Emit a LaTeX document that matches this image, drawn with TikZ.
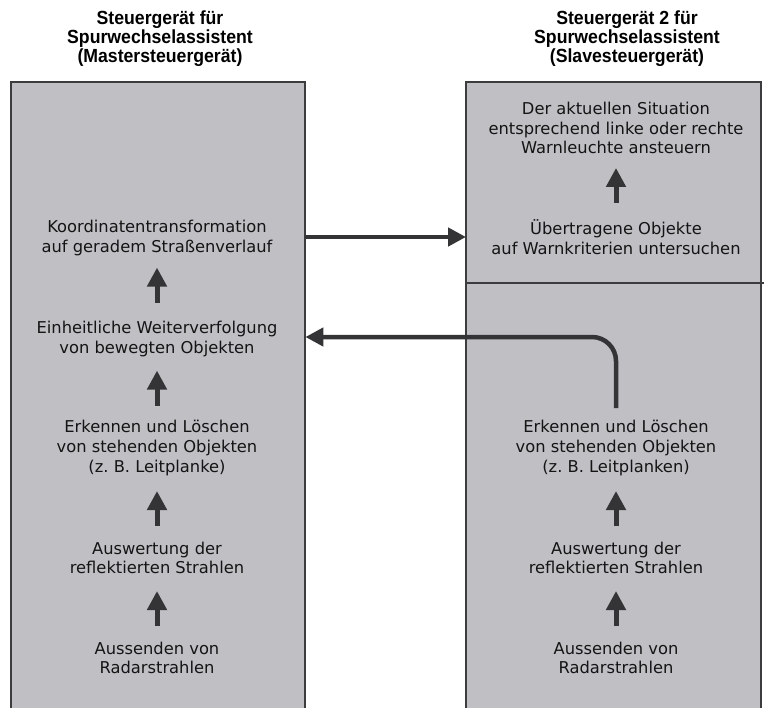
\documentclass[tikz,border=0pt]{standalone}
\usepackage{fontspec}
\setmainfont{DejaVu Sans}
\newfontfamily\headfont[FakeStretch=0.93]{Liberation Sans}
\usetikzlibrary{arrows.meta,calc}
\definecolor{boxfill}{RGB}{192,191,196}
\definecolor{edgecol}{RGB}{60,60,62}
\definecolor{arrcol}{RGB}{52,52,54}
\definecolor{txtcol}{RGB}{20,20,20}
\frenchspacing
\begin{document}
\begin{tikzpicture}[x=1pt,y=-1pt,
  bodytext/.style={align=center, inner sep=0pt, text=txtcol, font=\fontsize{16.3}{19.8}\selectfont},
  headtext/.style={align=center, inner sep=0pt, text=black, font=\headfont\bfseries\fontsize{19}{19}\selectfont},
  panel/.style={fill=boxfill, draw=none, anchor=north west, inner sep=0pt, minimum height=626pt},
  edgeline/.style={draw=edgecol, line width=2pt, line join=miter},
  bigarrow/.style={draw=arrcol, line width=4.5pt, -{Triangle[length=18pt,width=18pt]}},
  uparrow/.style={draw=arrcol, line width=5pt, -{Triangle[length=19pt,width=19pt]}}
]
\useasboundingbox (0,0) rectangle (768,713);

% panels
\node[panel, minimum width=294pt] (lbox) at (11,82) {};
\node[panel, minimum width=295pt] (rbox) at (466,82) {};
\draw[edgeline] (lbox.south west) -- (lbox.north west) -- (lbox.north east) -- (lbox.south east);
\draw[edgeline] (rbox.south west) -- (rbox.north west) -- (rbox.north east) -- (rbox.south east);
\draw[edgeline] ($(rbox.north west)+(0,201)$) -- ($(rbox.north east)+(3,201)$);

% headings
\node[headtext] (lhead) at (160,39) {Steuergerät für\\Spurwechselassistent\\(Mastersteuergerät)};
\node[headtext] (rhead) at (627,39) {Steuergerät 2 für\\Spurwechselassistent\\(Slavesteuergerät)};

% left column
\node[bodytext] (koord) at (157,238) {Koordinatentransformation\\auf geradem Straßenverlauf};
\node[bodytext] (einh) at (157,339) {Einheitliche Weiterverfolgung\\von bewegten Objekten};
\node[bodytext] (lerk) at (157,448) {Erkennen und Löschen\\von stehenden Objekten\\(z. B. Leitplanke)};
\node[bodytext] (lausw) at (157,558) {Auswertung der\\reflektierten Strahlen};
\node[bodytext] (lsend) at (157,658) {Aussenden von\\Radarstrahlen};

% right column
\node[bodytext] (warn) at (616,128) {Der aktuellen Situation\\entsprechend linke oder rechte\\Warnleuchte ansteuern};
\node[bodytext] (uebertr) at (616,237) {Übertragene Objekte\\auf Warnkriterien untersuchen};
\node[bodytext] (rerk) at (616,448) {Erkennen und Löschen\\von stehenden Objekten\\(z. B. Leitplanken)};
\node[bodytext] (rausw) at (616,558) {Auswertung der\\reflektierten Strahlen};
\node[bodytext] (rsend) at (616,658) {Aussenden von\\Radarstrahlen};

% small up arrows, left
\draw[uparrow] ($(koord)!0.466!(einh)+(0,17.5)$) -- ($(koord)!0.466!(einh)+(0,-17.5)$);
\draw[uparrow] ($(einh)!0.45!(lerk)+(0,17.5)$) -- ($(einh)!0.45!(lerk)+(0,-17.5)$);
\draw[uparrow] ($(lerk)!0.55!(lausw)+(0,17.5)$) -- ($(lerk)!0.55!(lausw)+(0,-17.5)$);
\draw[uparrow] ($(lausw)!0.505!(lsend)+(0,17.5)$) -- ($(lausw)!0.505!(lsend)+(0,-17.5)$);

% small up arrows, right
\draw[uparrow] ($(warn)!0.527!(uebertr)+(0,17.5)$) -- ($(warn)!0.527!(uebertr)+(0,-17.5)$);
\draw[uparrow] ($(rerk)!0.55!(rausw)+(0,17.5)$) -- ($(rerk)!0.55!(rausw)+(0,-17.5)$);
\draw[uparrow] ($(rausw)!0.505!(rsend)+(0,17.5)$) -- ($(rausw)!0.505!(rsend)+(0,-17.5)$);

% connectors between units
\draw[bigarrow] (lbox.east |- uebertr) -- (rbox.west |- uebertr);
\draw[bigarrow, rounded corners=24pt] ($(rerk.north)+(0,-12)$) |- ($(lbox.east |- einh)+(0,-2)$);
\end{tikzpicture}
\end{document}
